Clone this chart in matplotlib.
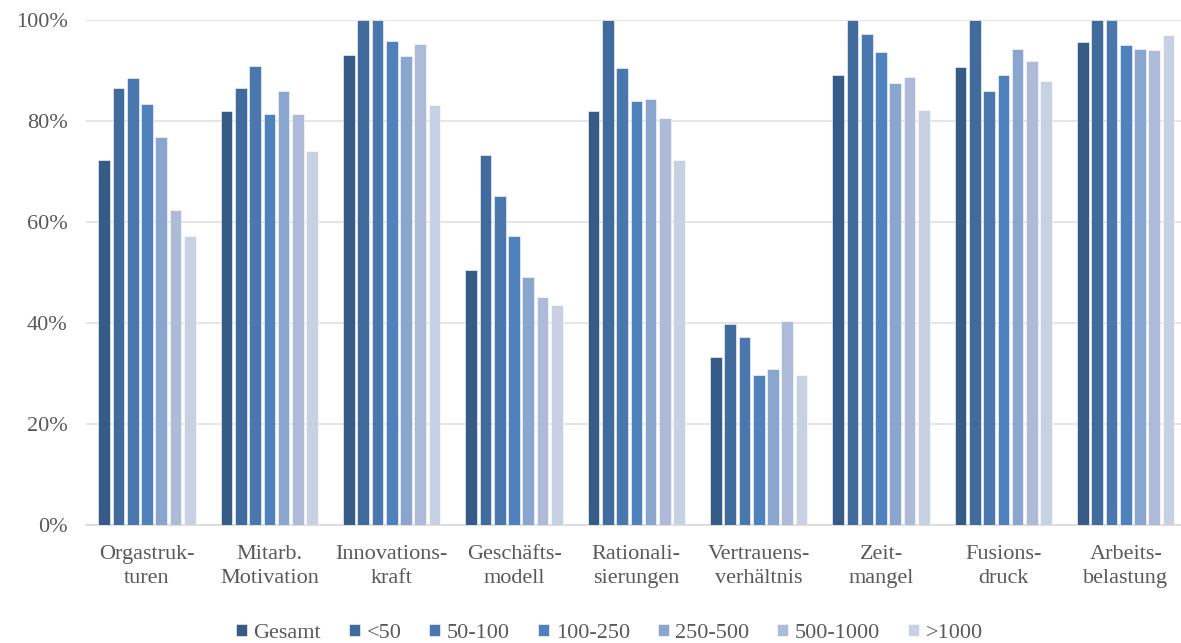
import numpy as np
import matplotlib.pyplot as plt
from matplotlib.ticker import PercentFormatter

# -----------------------------
# Data
# -----------------------------
categories = [
    "Orgastruk-\nturen", "Mitarb.\nMotivation", "Innovations-\nkraft",
    "Geschäfts-\nmodell", "Rationali-\nsierungen", "Vertrauens-\nverhältnis",
    "Zeit-\nmangel", "Fusions-\ndruck", "Arbeits-\nbelastung",
]
series_names = ["Gesamt", "<50", "50-100", "100-250", "250-500", "500-1000", ">1000"]

gesamt   = [72.2, 81.9, 93.0, 50.6, 81.9, 33.3, 89.2, 90.7, 95.6]
lt50     = [86.6, 86.6, 100.0, 73.2, 100.0, 39.9, 100.0, 100.0, 100.0]
s50_100  = [88.5, 90.8, 100.0, 65.1, 90.5, 37.2, 97.3, 85.9, 100.0]
s100_250 = [83.4, 81.4, 95.8, 57.2, 83.9, 29.8, 93.6, 89.2, 95.1]
s250_500 = [76.8, 86.0, 92.8, 49.1, 84.4, 30.9, 87.5, 94.3, 94.3]
s500_1k  = [62.3, 81.4, 95.3, 45.1, 80.6, 40.5, 88.7, 91.8, 94.1]
gt1000   = [57.2, 74.0, 83.2, 43.5, 72.2, 29.8, 82.1, 87.9, 97.1]

values = [gesamt, lt50, s50_100, s100_250, s250_500, s500_1k, gt1000]
colors = ["#365b86", "#416b9c", "#4a78ae", "#4f82bd", "#8aa5ce", "#adbbd9", "#c7d1e3"]

# -----------------------------
# Plot
# -----------------------------
plt.rcParams["font.family"] = ["Liberation Serif", "DejaVu Serif"]
text_color = "#595959"

fig = plt.figure(figsize=(11.81, 6.43), dpi=100)
ax = fig.add_axes([0.0727, 0.183, 0.9273, 0.786])

x = np.arange(len(categories))
pitch = 0.1165
n = len(series_names)
for i, (name, vals, c) in enumerate(zip(series_names, values, colors)):
    offs = (i - (n - 1) / 2) * pitch
    ax.bar(x + offs, vals, width=pitch * 0.82, color=c, label=name,
           edgecolor="white", linewidth=0.4, zorder=3)

ax.set_ylim(0, 100)
ax.set_xlim(-0.5, 8.452)
ax.set_yticks(np.arange(0, 101, 20))
ax.yaxis.set_major_formatter(PercentFormatter(decimals=0))
ax.set_xticks(x)
ax.set_xticklabels(categories, fontsize=16, color=text_color, linespacing=1.4)
ax.tick_params(axis="y", labelsize=16, labelcolor=text_color, length=0, pad=13)
ax.tick_params(axis="x", length=0, pad=14)

ax.grid(axis="y", color="#e0e0e0", linewidth=1.2, zorder=0)
for side in ["top", "right", "left"]:
    ax.spines[side].set_visible(False)
ax.spines["bottom"].set_color("#d9d9d9")
ax.spines["bottom"].set_linewidth(1.2)

leg = ax.legend(loc="upper center", bbox_to_anchor=(0.478, -0.155), ncol=n,
                frameon=False, fontsize=16, handlelength=0.5, handleheight=0.5,
                handletextpad=0.3, columnspacing=1.25)
for t in leg.get_texts():
    t.set_color(text_color)

fig.savefig("out.png", dpi=100)
